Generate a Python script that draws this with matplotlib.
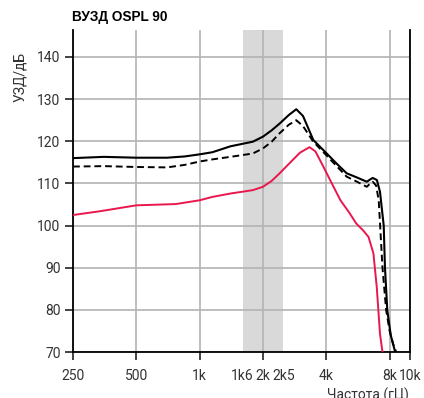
import numpy as np
import matplotlib
matplotlib.use('Agg')
import matplotlib.pyplot as plt

plt.rcParams['font.family'] = ['Roboto', 'DejaVu Sans']

# частоты (Гц) и уровни (дБ)
f_solid = [250, 350, 500, 700, 850, 1000, 1150, 1400, 1790, 2000, 2200, 2400, 2650, 2880,
           3100, 3470, 4000, 4500, 5000, 5600, 6230, 6450, 6650, 6960, 7200, 7500, 7600,
           7800, 8100, 8500]
v_solid = [116.0, 116.3, 116.1, 116.1, 116.4, 116.9, 117.4, 118.8, 119.9, 121.1, 122.6, 124.2,
           126.2, 127.6, 126.0, 120.3, 117.2, 114.6, 112.4, 111.4, 110.4, 110.9, 111.3, 110.8,
           108.0, 100.0, 90.2, 79.9, 74.0, 70.0]

f_dash = [250, 350, 500, 700, 850, 1000, 1150, 1400, 1790, 2000, 2200, 2400, 2650, 2880,
          3100, 3470, 4000, 4500, 5000, 5600, 6230, 6450, 6650, 6900, 7100, 7400, 7700,
          8000, 8300, 8600]
v_dash = [114.0, 114.1, 113.9, 113.8, 114.4, 115.2, 115.7, 116.3, 117.1, 118.3, 119.9, 121.9,
          123.9, 125.0, 123.6, 119.9, 116.7, 114.0, 111.6, 110.4, 109.2, 109.9, 110.4, 109.5,
          106.0, 90.0, 80.0, 75.0, 72.0, 70.0]

f_red = [250, 336, 500, 770, 1000, 1150, 1400, 1790, 2000, 2200, 2400, 2700, 3000, 3330,
         3550, 3800, 4200, 4670, 5170, 5550, 6000, 6350, 6700, 6950, 7200, 7400]
v_red = [102.5, 103.4, 104.8, 105.1, 106.0, 106.8, 107.6, 108.4, 109.2, 110.6, 112.4, 115.0,
         117.3, 118.6, 117.6, 114.8, 110.5, 106.0, 102.9, 100.5, 98.8, 97.3, 93.4, 85.4, 74.3, 70.0]

band = (1600, 2500)
xticks = [250, 500, 1000, 2000, 4000, 8000, 10000]
xlabels = ['250', '500', '1k', '2k', '4k', '8k', '10k']
xminor = [1600, 2500]
xminor_labels = ['1k6', '2k5']
yticks = [70, 80, 90, 100, 110, 120, 130, 140]

fig = plt.figure(figsize=(4.24, 3.98), dpi=100)
ax = fig.add_axes([73 / 424, 46 / 398, 337 / 424, 322 / 398])

ax.axvspan(band[0], band[1], color='#d9d9d9', lw=0, zorder=0.5)

ax.plot(f_solid, v_solid, color='black', lw=1.5, zorder=3)
ax.plot(f_dash, v_dash, color='black', lw=1.4, ls=(0, (3.5, 2)), zorder=3)
ax.plot(f_red, v_red, color='#e8174d', lw=1.4, zorder=3)

ax.set_xscale('log')
ax.set_xlim(250, 10000)
ax.set_ylim(70, 146.4)

ax.set_xticks(xticks)
ax.set_xticklabels(xlabels)
ax.set_xticks(xminor, minor=True)
ax.set_xticklabels(xminor_labels, minor=True)
ax.set_yticks(yticks)

ax.grid(True, which='major', color='#b3b3b3', lw=1.2, zorder=1)
ax.set_axisbelow(True)

ax.tick_params(which='major', length=6, width=1.2, color='#222222', labelsize=10,
               labelcolor='#333333', pad=6)
ax.tick_params(which='minor', length=0, labelsize=10, labelcolor='#333333', pad=12)
ax.tick_params(axis='y', pad=3)

for s in ['left', 'bottom', 'right']:
    ax.spines[s].set_color('black')
    ax.spines[s].set_linewidth(1.3)
ax.spines['top'].set_visible(False)

fig.text(72 / 424, 1 - 17 / 398, 'ВУЗД OSPL 90', fontsize=9.8, fontweight='bold',
         family=['Liberation Sans', 'DejaVu Sans'], va='center', ha='left')
fig.text(20 / 424, 1 - 77 / 398, 'УЗД/дБ', fontsize=10, color='#333333', rotation=90,
         va='center', ha='center')
fig.text(368 / 424, 1 - 388 / 398, 'Частота (гЦ)', fontsize=10, color='#333333',
         va='top', ha='center')

fig.savefig('out.png', dpi=100)
